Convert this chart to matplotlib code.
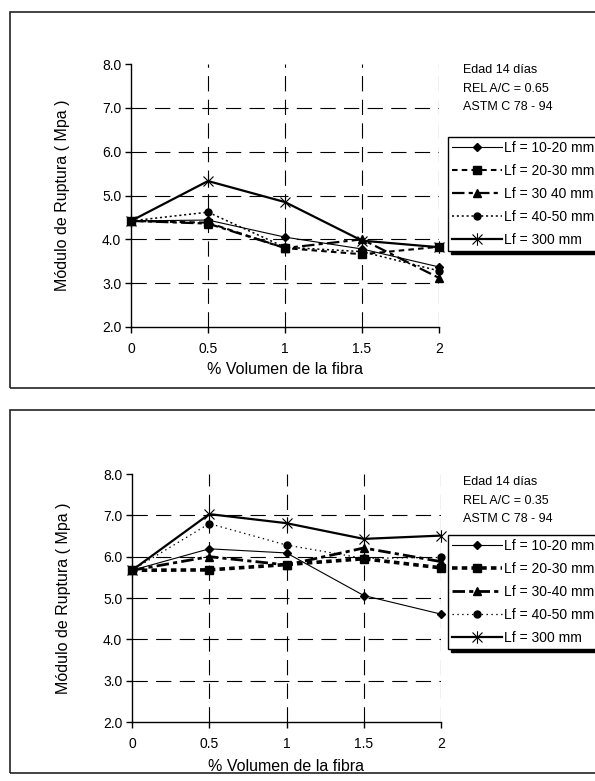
import numpy as np
import matplotlib
matplotlib.use("Agg")
import matplotlib.pyplot as plt
from matplotlib.path import Path

plt.rcParams['font.family'] = ['Liberation Sans', 'DejaVu Sans']
plt.rcParams['lines.scale_dashes'] = False

# % volumen de fibra
vol = [0, 0.5, 1, 1.5, 2]
labels_top = ['Lf = 10-20 mm', 'Lf = 20-30 mm', 'Lf = 30 40 mm', 'Lf = 40-50 mm', 'Lf = 300 mm']
labels_bot = ['Lf = 10-20 mm', 'Lf = 20-30 mm', 'Lf = 30-40 mm', 'Lf = 40-50 mm', 'Lf = 300 mm']

# REL A/C = 0.65
top_10_20 = [4.42, 4.44, 4.05, 3.78, 3.37]
top_20_30 = [4.42, 4.38, 3.80, 3.66, 3.83]
top_30_40 = [4.42, 4.36, 3.80, 4.00, 3.12]
top_40_50 = [4.42, 4.62, 3.82, 3.72, 3.28]
top_300 = [4.42, 5.33, 4.85, 3.97, 3.82]

# REL A/C = 0.35
bot_10_20 = [5.67, 6.19, 6.09, 5.06, 4.61]
bot_20_30 = [5.67, 5.68, 5.81, 5.95, 5.73]
bot_30_40 = [5.67, 6.00, 5.80, 6.21, 5.88]
bot_40_50 = [5.67, 6.80, 6.28, 5.96, 5.98]
bot_300 = [5.67, 7.03, 6.81, 6.43, 6.51]

# asterisk marker (X plus vertical bar)
star = Path([(0, -1), (0, 1), (-0.8, -0.8), (0.8, 0.8), (-0.8, 0.8), (0.8, -0.8)],
            [Path.MOVETO, Path.LINETO, Path.MOVETO, Path.LINETO, Path.MOVETO, Path.LINETO])

W, H = 595, 781
fig = plt.figure(figsize=(W / 100, H / 100), dpi=100)


def fx(px):
    return px / W


def fy(py):
    return 1 - py / H


def panel(ax, series, styles, labels, xlab_off):
    for y, st, lab in zip(series, styles, labels):
        ax.plot(vol, y, color='black', label=lab, clip_on=False, **st)
    ax.set_xlim(0, 2)
    ax.set_ylim(2, 8)
    ax.set_xticks(vol)
    ax.set_xticklabels(['0', '0.5', '1', '1.5', '2'])
    ax.set_yticks(np.arange(2, 8.1, 1))
    ax.set_yticklabels(['%.1f' % v for v in np.arange(2, 8.1, 1)])
    ax.spines['top'].set_visible(False)
    ax.spines['right'].set_visible(False)
    for s in ('left', 'bottom'):
        ax.spines[s].set_linewidth(1.0)
    ax.tick_params(direction='out', length=4, width=1.0, labelsize=10, pad=3)
    ax.tick_params(axis='x', pad=7)
    for v in [3, 4, 5, 6, 7]:
        ax.axhline(v, color='black', lw=0.8, ls=(0, (11, 6)), zorder=0)
    for v in [0.5, 1, 1.5, 2]:
        ax.axvline(v, color='black', lw=0.8, ls=(0, (11, 6)), zorder=0)
    ax.set_ylabel('Módulo de Ruptura ( Mpa )', fontsize=11.5)
    ax.yaxis.set_label_coords(-0.221, 0.5)
    ax.yaxis.label.set_va('center')
    ax.set_xlabel('% Volumen de la fibra', fontsize=11.5)
    ax.xaxis.set_label_coords(0.5, xlab_off)
    ax.xaxis.label.set_va('center')


# panel frames
fig.add_artist(plt.Rectangle((fx(10), fy(388)), 1.0, (388 - 12) / H, transform=fig.transFigure,
                             fill=False, lw=1.2, ec='#222222'))
fig.add_artist(plt.Rectangle((fx(10), fy(773)), 1.0, (773 - 410) / H, transform=fig.transFigure,
                             fill=False, lw=1.2, ec='#222222'))

top_styles = [
    dict(lw=0.8, ls='-', marker='D', ms=4.5),
    dict(lw=1.5, ls=(0, (4, 3)), marker='s', ms=5.5),
    dict(lw=1.6, ls=(0, (9, 3, 3, 3)), marker='^', ms=6),
    dict(lw=1.1, ls=(0, (1.5, 2)), marker='o', ms=5),
    dict(lw=1.6, ls='-', marker=star, ms=9, mew=0.8),
]
bot_styles = [
    dict(lw=0.8, ls='-', marker='D', ms=4.5),
    dict(lw=2.6, ls=(0, (4, 3)), marker='s', ms=5.5),
    dict(lw=2.0, ls=(0, (9, 3, 3, 3)), marker='^', ms=6),
    dict(lw=0.9, ls=(0, (1, 2.5)), marker='o', ms=5),
    dict(lw=1.6, ls='-', marker=star, ms=9, mew=0.8),
]

ax1 = fig.add_axes([fx(131), fy(327), (439 - 131) / W, (327 - 64) / H])
panel(ax1, [top_10_20, top_20_30, top_30_40, top_40_50, top_300], top_styles, labels_top, -0.16)

ax2 = fig.add_axes([fx(132), fy(722), (441 - 132) / W, (722 - 474) / H])
panel(ax2, [bot_10_20, bot_20_30, bot_30_40, bot_40_50, bot_300], bot_styles, labels_bot, -0.18)

for ax, y0, rel in [(ax1, 70, '0.65'), (ax2, 482, '0.35')]:
    for i, t in enumerate(['Edad 14 días', 'REL A/C = ' + rel, 'ASTM C 78 - 94']):
        fig.text(fx(463), fy(y0 + 18.5 * i), t, fontsize=9, va='center', ha='left')

for ax, ytop in [(ax1, 137), (ax2, 535)]:
    leg = ax.legend(loc='upper left', bbox_to_anchor=(fx(448), fy(ytop)),
                    bbox_transform=fig.transFigure, borderaxespad=0, fontsize=10,
                    handlelength=3.6, handletextpad=0.1, labelspacing=0.65,
                    borderpad=0.3, fancybox=False, framealpha=1, edgecolor='black',
                    shadow={'color': 'black', 'alpha': 1}, numpoints=1)
    leg.get_frame().set_linewidth(1.0)

fig.savefig('out.png', dpi=100)
